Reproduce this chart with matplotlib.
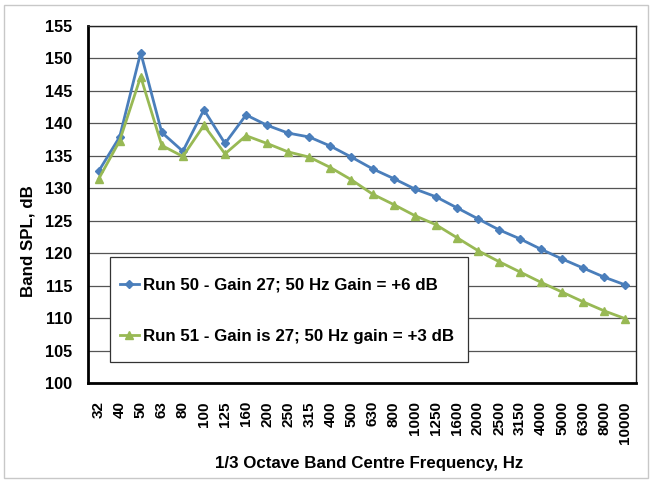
import matplotlib
matplotlib.use("Agg")
import matplotlib.pyplot as plt
from matplotlib.patches import Rectangle

freqs = ["32", "40", "50", "63", "80", "100", "125", "160", "200", "250", "315", "400",
         "500", "630", "800", "1000", "1250", "1600", "2000", "2500", "3150", "4000",
         "5000", "6300", "8000", "10000"]
run50 = [132.6, 137.9, 150.9, 138.6, 135.7, 142.1, 136.9, 141.3, 139.7, 138.5, 137.9, 136.5,
         134.8, 133.0, 131.5, 129.9, 128.7, 127.0, 125.3, 123.6, 122.2, 120.6,
         119.1, 117.7, 116.3, 115.1]
run51 = [131.4, 137.3, 147.2, 136.6, 134.9, 139.7, 135.3, 138.1, 136.9, 135.6, 134.8, 133.2,
         131.3, 129.1, 127.5, 125.8, 124.4, 122.4, 120.4, 118.7, 117.1, 115.5,
         114.0, 112.5, 111.1, 109.9]
label50 = "Run 50 - Gain 27; 50 Hz Gain = +6 dB"
label51 = "Run 51 - Gain is 27; 50 Hz gain = +3 dB"
yticks = [100, 105, 110, 115, 120, 125, 130, 135, 140, 145, 150, 155]

plt.rcParams['font.family'] = ['Liberation Sans', 'DejaVu Sans']
plt.rcParams['font.weight'] = 'bold'

fig = plt.figure(figsize=(6.52, 4.83), dpi=100)
ax = fig.add_axes([88/652, 1-383/483, 548/652, 357/483])

x = list(range(len(freqs)))
ax.plot(x, run50, color='#4a7ebb', lw=2, marker='D', ms=4, label=label50, zorder=3)
ax.plot(x, run51, color='#98b954', lw=2, marker='^', ms=6, label=label51, zorder=3)

ax.set_xlim(-0.5, len(freqs) - 0.5)
ax.set_ylim(100, 155)
ax.set_yticks(yticks)
ax.set_xticks(x)
ax.set_xticklabels(freqs, rotation=90, fontsize=11, fontweight='bold')
for t in ax.get_yticklabels():
    t.set_fontsize(11.7)
    t.set_fontweight('bold')
ax.tick_params(length=0)
ax.tick_params(axis='y', pad=11.5)
ax.tick_params(axis='x', pad=13)
ax.grid(axis='y', color='#555555', lw=0.9)
ax.set_axisbelow(True)
for s in ['top', 'right']:
    ax.spines[s].set_linewidth(1.0)
    ax.spines[s].set_color('#222222')
for s in ['left', 'bottom']:
    ax.spines[s].set_linewidth(2.0)
    ax.spines[s].set_color('black')

ax.set_ylabel("Band SPL, dB", fontsize=12.2, fontweight='bold')
ax.yaxis.set_label_coords(-0.0967, 0.398)
ax.set_xlabel("1/3 Octave Band Centre Frequency, Hz", fontsize=12.2, fontweight='bold')
ax.xaxis.set_label_coords(0.513, -0.2045)

box = Rectangle((22/548, 21/357), 358/548, 105/357, transform=ax.transAxes,
                facecolor='white', edgecolor='#333333', lw=0.9, zorder=4)
ax.add_patch(box)
leg = ax.legend(loc='center left', bbox_to_anchor=(32/548, 0.2022),
                borderaxespad=0, borderpad=0, frameon=False,
                prop={'size': 12.2, 'weight': 'bold'},
                handlelength=1.12, handletextpad=0.22, labelspacing=2.15)
leg.set_zorder(5)

fig.patches.append(Rectangle((4/652, 5/483), 644/652, 473/483, transform=fig.transFigure,
                             fill=False, edgecolor='#c8c8c8', lw=1))

fig.savefig("out.png", dpi=100)
